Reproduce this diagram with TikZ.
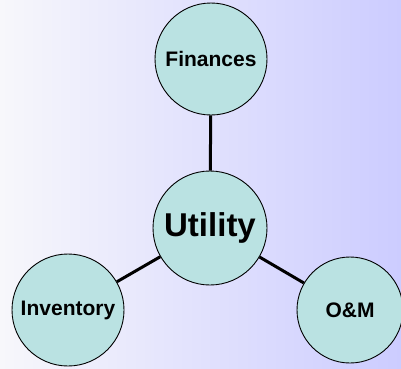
\documentclass[tikz,border=0pt]{standalone}
\usepackage{fontspec}
\setmainfont{Liberation Sans}
\definecolor{bgleft}{RGB}{247,247,251}
\definecolor{bgright}{RGB}{204,204,255}
\definecolor{circfill}{RGB}{186,226,226}
\begin{document}
\begin{tikzpicture}[x=1pt,y=-1pt,
  topic/.style={circle,draw=black,line width=0.9pt,fill=circfill,minimum size=112pt,inner sep=0pt,font=\bfseries\fontsize{21}{25}\selectfont},
  hub/.style={topic,minimum size=114pt,font=\bfseries\fontsize{33}{39}\selectfont},
  link/.style={line width=3pt,draw=black}]
\shade[left color=bgleft,right color=bgright] (0,0) rectangle (401,368);
\useasboundingbox (0,0) rectangle (401,368);
\node[hub] (u) at (210,228) {Utility};
\node[topic] (f) at (211,59) {Finances};
\node[topic] (i) at (68,310) {Inventory};
\node[topic,minimum size=106pt] (o) at (350,310) {O\&M};
\draw[link] (u) -- (f);
\draw[link] (u) -- (i);
\draw[link] (u) -- (o);
\end{tikzpicture}
\end{document}
